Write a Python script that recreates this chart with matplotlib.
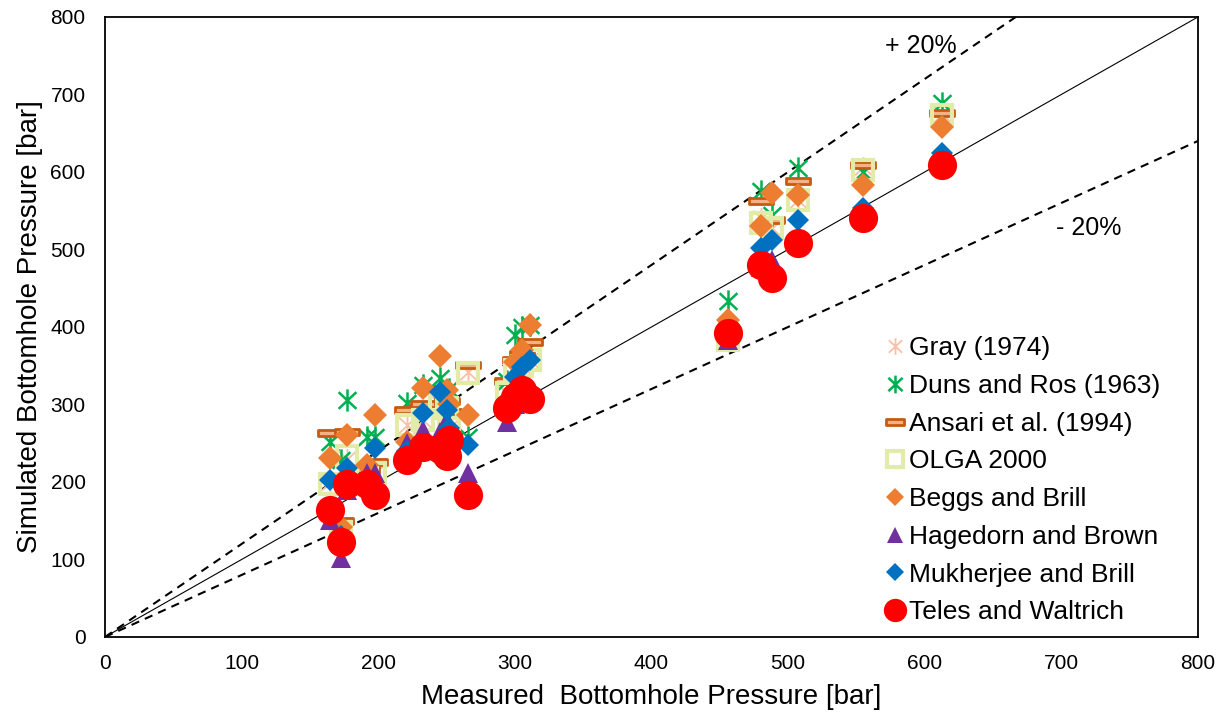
import matplotlib
matplotlib.use("Agg")
import matplotlib.pyplot as plt
from matplotlib.path import Path
import numpy as np

plt.rcParams['font.family'] = ['Liberation Sans', 'DejaVu Sans']

# measured bottomhole pressure [bar], shared by all models
measured = [165, 173, 177, 192, 198, 221, 233, 245, 250, 252, 266,
            294, 300, 305, 311, 456, 480, 488, 507, 555, 613]

gray = [200, 135, 230, 205, 211, 273, 280, 300, 295, 270, 342,
        315, 344, 350, 357, 383, 540, 528, 564, 606, 675]
duns = [252, 228, 306, 258, 258, 302, 325, 334, 300, 320, 258,
        330, 390, 400, 402, 433, 575, 544, 605, 600, 689]
ansari = [263, 150, 265, 215, 226, 293, 300, 320, 304, 290, 351,
          330, 357, 365, 381, 395, 562, 538, 588, 609, 676]
olga = [198, 135, 233, 205, 211, 273, 280, 300, 295, 270, 340,
        315, 344, 350, 357, 383, 534, 528, 564, 603, 673]
beggs = [231, 142, 261, 222, 286, 252, 321, 362, 319, 300, 286,
         305, 355, 370, 402, 409, 530, 573, 570, 583, 658]
hagedorn = [151, 102, 190, 211, 211, 250, 267, 265, 280, 260, 211,
            278, 300, 310, 315, 383, 478, 486, 510, 545, 612]
mukherjee = [203, 130, 218, 200, 244, 240, 289, 316, 293, 270, 248,
             300, 336, 349, 357, 395, 502, 512, 538, 553, 625]
teles = [164, 123, 198, 198, 183, 228, 245, 242, 233, 254, 183,
         295, 310, 319, 307, 392, 480, 463, 508, 540, 609]

# excel-like markers
star = Path([(0, -1), (0, 1), (-0.8, -0.75), (0.8, 0.75), (-0.8, 0.75), (0.8, -0.75)],
            [Path.MOVETO, Path.LINETO, Path.MOVETO, Path.LINETO, Path.MOVETO, Path.LINETO])
dash = Path([(-1, -0.28), (1, -0.28), (1, 0.28), (-1, 0.28), (-1, -0.28)],
            [Path.MOVETO, Path.LINETO, Path.LINETO, Path.LINETO, Path.CLOSEPOLY])

fig = plt.figure(figsize=(12.28, 7.17), dpi=100)
ax = fig.add_axes([0.0855, 0.1116, 0.89, 0.8647])

lim = np.array([0, 800])
ax.plot(lim, lim, color='black', lw=0.8, zorder=1)
ax.plot(lim, 1.2 * lim, color='black', lw=1.5, ls=(0, (4, 3)), zorder=1)
ax.plot(lim, 0.8 * lim, color='black', lw=1.5, ls=(0, (4, 3)), zorder=1)

ax.plot(measured, gray, ls='none', marker=star, ms=15, mew=1.3,
        color='#F8C0A8', label='Gray (1974)')
ax.plot(measured, duns, ls='none', marker=star, ms=16, mew=1.8,
        color='#00B050', label='Duns and Ros (1963)')
ax.plot(measured, ansari, ls='none', marker=dash, ms=17, mew=2,
        mec='#C55A11', mfc='#F4B183', label='Ansari et al. (1994)')
ax.plot(measured, olga, ls='none', marker='s', ms=15, mew=3,
        mec='#E2EBA8', mfc='none', label='OLGA 2000')
ax.plot(measured, beggs, ls='none', marker='D', ms=12, mew=0,
        color='#ED7D31', label='Beggs and Brill')
ax.plot(measured, hagedorn, ls='none', marker='^', ms=15, mew=0,
        color='#7030A0', label='Hagedorn and Brown')
ax.plot(measured, mukherjee, ls='none', marker='D', ms=11, mew=0,
        color='#0070C0', label='Mukherjee and Brill')
ax.plot(measured, teles, ls='none', marker='o', ms=21, mew=0,
        color='#FF0000', label='Teles and Waltrich')

ax.text(597, 762, '+ 20%', fontsize=18, ha='center', va='center')
ax.text(720, 528, '- 20%', fontsize=18, ha='center', va='center')

ax.set_xlim(0, 800)
ax.set_ylim(0, 800)
ax.set_xticks(range(0, 801, 100))
ax.set_yticks(range(0, 801, 100))
ax.tick_params(labelsize=15, length=0)
ax.tick_params(axis='x', pad=12)
ax.tick_params(axis='y', pad=14)
for s in ax.spines.values():
    s.set_linewidth(1.3)
ax.set_xlabel('Measured  Bottomhole Pressure [bar]', fontsize=20, labelpad=8)
ax.set_ylabel('Simulated Bottomhole Pressure [bar]', fontsize=20, labelpad=5)

leg = ax.legend(loc='upper left', bbox_to_anchor=(0.702, 0.502), frameon=False,
                fontsize=19, handlelength=0.9, handletextpad=0.1,
                labelspacing=0.52, borderaxespad=0, markerscale=0.8)

fig.savefig('out.png', dpi=100)
